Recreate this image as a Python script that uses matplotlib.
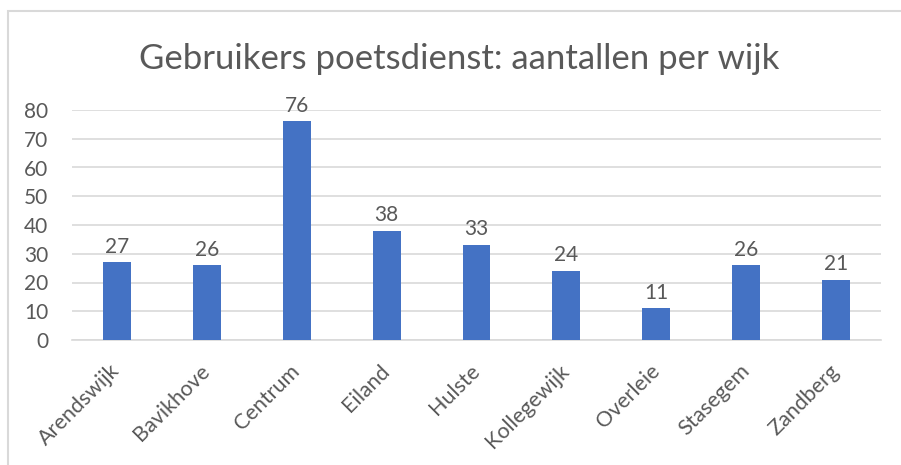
import matplotlib
matplotlib.use("Agg")
import matplotlib.pyplot as plt
from matplotlib.patches import Rectangle

# data
wijken = ["Arendswijk", "Bavikhove", "Centrum", "Eiland", "Hulste",
          "Kollegewijk", "Overleie", "Stasegem", "Zandberg"]
aantallen = [27, 26, 76, 38, 33, 24, 11, 26, 21]
y_ticks = [0, 10, 20, 30, 40, 50, 60, 70, 80]
title = "Gebruikers poetsdienst: aantallen per wijk"

text_color = "#595959"
grid_color = "#d9d9d9"
bar_color = "#4472c4"

# Lato is the base of Carlito (Calibri metrics)
plt.rcParams["font.family"] = ["Lato", "DejaVu Sans"]

fig = plt.figure(figsize=(9.01, 4.65), dpi=100)

# chart border (cut off at right and bottom like the screenshot)
fig.patches.append(Rectangle((8 / 901, -0.1), 1.0, 1 - 11 / 465 + 0.1,
                             transform=fig.transFigure, fill=False,
                             edgecolor=grid_color, linewidth=1.5))

ax = fig.add_axes([72 / 901, 1 - 340 / 465, (881 - 72) / 901, (340 - 110) / 465])

x = range(len(wijken))
ax.bar(x, aantallen, width=0.31, color=bar_color, zorder=3)
for xi, v in zip(x, aantallen):
    ax.text(xi, v + 2.0, str(v), ha="center", va="bottom",
            fontsize=15, color=text_color)

ax.set_xlim(-0.5, len(wijken) - 0.5)
ax.set_ylim(0, 80)
ax.set_yticks(y_ticks)
ax.yaxis.grid(True, color=grid_color, linewidth=1.2, zorder=0)
ax.set_axisbelow(True)
for s in ["top", "right", "left"]:
    ax.spines[s].set_visible(False)
ax.spines["bottom"].set_color(grid_color)
ax.spines["bottom"].set_linewidth(1.2)
ax.tick_params(axis="both", length=0, colors=text_color, labelsize=15)
ax.tick_params(axis="y", pad=17)
ax.set_xticks(list(x))
ax.set_xticklabels(wijken, rotation=45, ha="right", va="center",
                   rotation_mode="anchor", fontsize=15.5)
ax.tick_params(axis="x", pad=20)

fig.text(459 / 901, 1 - 59 / 465, title, ha="center", va="center",
         fontsize=25, color=text_color)

fig.savefig("out.png", dpi=100)
